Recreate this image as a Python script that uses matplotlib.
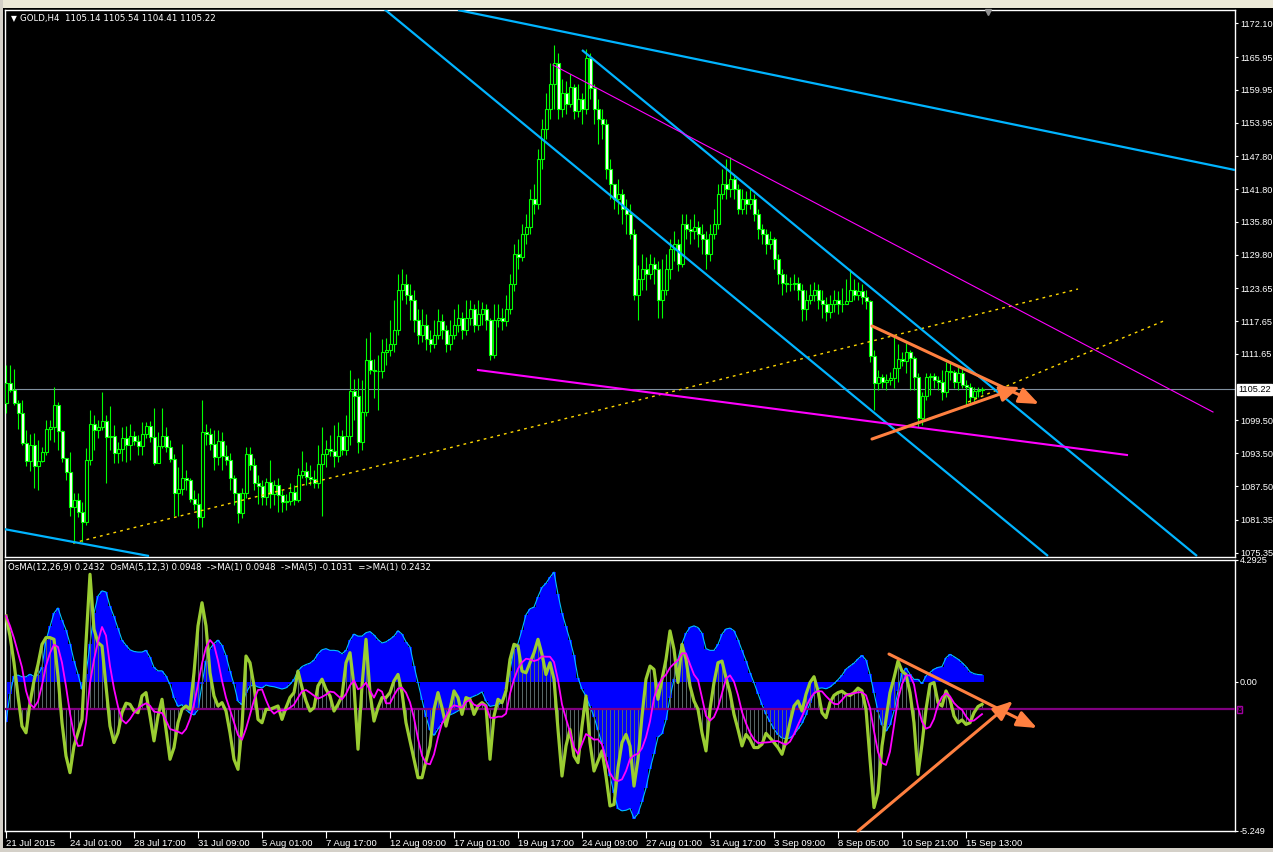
import matplotlib
matplotlib.use("Agg")
import matplotlib.pyplot as plt
import numpy as np
import pandas as pd
from matplotlib.patches import Rectangle

# ---------------- data ----------------
first_open = 1102.7
close = [1106.4, 1105.1, 1102.7, 1100.9, 1095.4, 1092.1, 1095.0, 1091.1, 1092.1, 1093.7,
         1097.9, 1098.3, 1102.3, 1097.6, 1092.6, 1090.0, 1083.6, 1084.9, 1082.7, 1080.9,
         1092.2, 1098.9, 1097.7, 1098.3, 1099.4, 1096.5, 1096.7, 1093.5, 1094.3, 1096.3,
         1095.0, 1096.7, 1095.7, 1094.8, 1097.0, 1098.5, 1096.5, 1091.7, 1094.8, 1096.7,
         1094.6, 1092.4, 1086.2, 1086.9, 1088.9, 1088.6, 1085.1, 1084.2, 1081.8, 1097.4,
         1097.0, 1095.2, 1092.8, 1095.7, 1093.0, 1092.2, 1088.9, 1086.2, 1082.5, 1086.2,
         1093.3, 1091.3, 1088.0, 1087.5, 1085.5, 1088.2, 1086.0, 1087.7, 1085.8, 1084.5,
         1084.7, 1086.4, 1084.9, 1089.5, 1090.2, 1089.1, 1088.8, 1088.0, 1091.5, 1093.3,
         1094.3, 1093.9, 1093.0, 1096.7, 1094.1, 1096.7, 1104.9, 1104.0, 1095.5, 1101.1,
         1110.6, 1108.8, 1108.6, 1108.6, 1112.1, 1112.3, 1113.4, 1116.1, 1123.4, 1124.4,
         1122.5, 1121.6, 1117.9, 1115.2, 1117.0, 1114.3, 1113.4, 1115.2, 1117.6, 1116.1,
         1113.4, 1115.2, 1117.0, 1118.3, 1116.1, 1118.3, 1119.8, 1117.0, 1118.9, 1119.8,
         1117.9, 1111.5, 1117.9, 1118.3, 1117.6, 1119.8, 1124.4, 1129.9, 1129.3, 1133.5,
         1134.8, 1140.0, 1139.0, 1147.3, 1152.8, 1156.5, 1161.1, 1164.8, 1156.5, 1159.3,
         1157.4, 1160.5, 1156.1, 1158.3, 1156.5, 1165.7, 1160.2, 1156.5, 1154.7, 1153.7,
         1145.5, 1142.7, 1140.0, 1140.9, 1138.1, 1137.2, 1133.6, 1122.5, 1125.3, 1127.1,
         1126.2, 1128.1, 1127.1, 1121.6, 1123.4, 1127.1, 1130.8, 1131.7, 1128.1, 1135.4,
         1134.5, 1134.1, 1134.8, 1133.6, 1132.6, 1129.9, 1133.6, 1135.4, 1140.9, 1142.7,
         1141.8, 1143.6, 1141.8, 1138.1, 1140.0, 1139.1, 1140.0, 1137.2, 1134.5, 1133.6,
         1131.7, 1132.6, 1129.0, 1126.2, 1124.7, 1124.4, 1124.4, 1124.7, 1123.4, 1119.8,
         1121.6, 1122.5, 1123.4, 1121.6, 1120.7, 1119.4, 1120.7, 1121.6, 1120.7, 1120.7,
         1121.3, 1123.4, 1122.5, 1123.1, 1122.0, 1121.3, 1111.2, 1106.4, 1107.5, 1106.6,
         1106.9, 1107.3, 1109.1, 1110.8, 1110.4, 1112.1, 1111.0, 1107.5, 1100.0, 1104.0,
         1107.5, 1107.7, 1106.9, 1106.6, 1104.7, 1108.6, 1108.4, 1106.6, 1108.2, 1106.0,
         1105.6, 1103.8, 1104.9, 1105.14, 1105.22]
high = [1109.7, 1109.7, 1108.9, 1103.3, 1103.3, 1097.8, 1097.0, 1097.2, 1095.9, 1094.6,
        1099.6, 1099.6, 1105.6, 1102.9, 1097.8, 1092.6, 1093.7, 1086.2, 1086.2, 1084.5,
        1094.4, 1101.4, 1100.5, 1099.6, 1104.7, 1100.5, 1102.2, 1098.7, 1095.5, 1098.3,
        1098.5, 1098.9, 1097.6, 1096.8, 1099.2, 1099.2, 1099.4, 1101.8, 1097.4, 1101.8,
        1098.3, 1095.9, 1093.3, 1091.0, 1095.2, 1090.4, 1088.9, 1086.7, 1086.2, 1103.3,
        1098.9, 1098.1, 1097.8, 1097.8, 1097.4, 1095.0, 1093.5, 1089.5, 1086.2, 1087.1,
        1094.6, 1094.6, 1092.6, 1089.5, 1088.6, 1088.9, 1092.2, 1088.6, 1088.9, 1086.7,
        1086.0, 1088.0, 1087.7, 1090.8, 1093.9, 1091.9, 1091.3, 1090.4, 1095.0, 1098.3,
        1095.9, 1096.8, 1098.7, 1099.2, 1097.8, 1100.5, 1108.8, 1107.1, 1107.3, 1106.9,
        1114.5, 1115.7, 1110.8, 1111.5, 1114.3, 1114.6, 1117.9, 1121.6, 1126.2, 1127.1,
        1126.2, 1124.4, 1123.4, 1119.8, 1119.8, 1118.9, 1116.1, 1117.9, 1119.8, 1118.9,
        1117.0, 1117.9, 1119.8, 1120.7, 1119.4, 1121.6, 1121.6, 1120.7, 1121.6, 1121.2,
        1120.7, 1118.3, 1120.7, 1120.7, 1120.1, 1122.5, 1126.2, 1131.7, 1132.6, 1135.4,
        1137.2, 1141.8, 1142.7, 1149.2, 1154.7, 1159.3, 1164.8, 1168.1, 1166.6, 1162.0,
        1161.6, 1162.9, 1161.1, 1161.1, 1159.3, 1167.5, 1166.6, 1161.1, 1158.3, 1156.5,
        1154.7, 1147.3, 1142.7, 1143.6, 1141.8, 1140.0, 1139.1, 1134.5, 1128.0, 1129.9,
        1129.3, 1129.9, 1129.3, 1128.6, 1129.0, 1129.9, 1132.6, 1134.1, 1132.6, 1137.2,
        1137.2, 1136.3, 1137.2, 1135.9, 1135.4, 1134.1, 1135.4, 1138.1, 1142.7, 1145.5,
        1147.3, 1147.7, 1144.6, 1142.7, 1141.8, 1141.4, 1141.8, 1140.9, 1138.1, 1135.4,
        1134.5, 1134.1, 1133.0, 1129.9, 1127.1, 1126.2, 1125.7, 1126.2, 1125.7, 1124.4,
        1123.4, 1124.4, 1124.9, 1124.4, 1123.4, 1122.0, 1122.5, 1123.4, 1123.1, 1123.8,
        1125.3, 1127.1, 1125.3, 1124.9, 1124.4, 1123.4, 1121.6, 1112.4, 1108.8, 1107.9,
        1107.9, 1108.4, 1114.8, 1113.4, 1112.1, 1113.7, 1112.4, 1111.2, 1108.2, 1104.7,
        1108.2, 1108.2, 1108.2, 1107.7, 1108.8, 1110.2, 1110.2, 1108.8, 1109.3, 1109.1,
        1106.9, 1106.4, 1105.6, 1105.6, 1105.54]
low = [1100.9, 1104.7, 1102.3, 1097.9, 1095.0, 1091.1, 1090.2, 1087.1, 1086.7, 1091.9,
       1093.2, 1095.9, 1095.5, 1094.1, 1091.9, 1088.6, 1082.1, 1077.0, 1081.8, 1077.2,
       1080.3, 1091.3, 1094.1, 1096.3, 1097.8, 1088.0, 1094.1, 1091.7, 1091.7, 1092.1,
       1091.9, 1092.2, 1095.0, 1093.2, 1093.2, 1096.3, 1095.5, 1091.3, 1091.7, 1094.4,
       1093.7, 1091.9, 1082.1, 1082.1, 1085.8, 1086.7, 1084.5, 1083.1, 1079.8, 1080.0,
       1095.0, 1094.1, 1090.4, 1091.3, 1090.4, 1091.3, 1086.7, 1084.0, 1080.7, 1081.6,
       1085.3, 1090.4, 1086.7, 1084.3, 1084.0, 1084.0, 1083.4, 1084.0, 1082.7, 1082.7,
       1083.1, 1084.0, 1084.0, 1084.5, 1088.9, 1087.7, 1087.7, 1087.1, 1087.1, 1082.1,
       1091.0, 1093.0, 1091.0, 1091.9, 1093.2, 1093.2, 1095.0, 1099.6, 1093.5, 1094.1,
       1100.3, 1107.9, 1103.6, 1101.4, 1107.3, 1109.7, 1111.3, 1112.1, 1115.2, 1121.6,
       1120.7, 1117.9, 1115.7, 1113.4, 1113.9, 1112.4, 1112.1, 1112.8, 1114.3, 1114.3,
       1112.1, 1112.4, 1114.3, 1115.7, 1114.3, 1115.2, 1117.0, 1115.7, 1116.1, 1117.0,
       1116.1, 1110.6, 1111.0, 1116.5, 1116.1, 1116.8, 1118.9, 1123.1, 1127.1, 1128.6,
       1131.7, 1133.6, 1137.2, 1138.1, 1145.5, 1151.0, 1154.7, 1156.5, 1154.7, 1155.0,
       1155.6, 1156.9, 1154.7, 1155.0, 1153.7, 1155.6, 1158.3, 1153.7, 1150.1, 1151.0,
       1143.6, 1140.0, 1138.1, 1137.2, 1135.4, 1133.6, 1132.6, 1121.6, 1117.9, 1123.4,
       1123.4, 1125.3, 1124.4, 1118.3, 1118.3, 1122.5, 1125.3, 1128.6, 1126.8, 1127.5,
       1132.6, 1131.7, 1132.6, 1131.2, 1129.9, 1127.1, 1128.6, 1132.6, 1134.5, 1140.0,
       1140.0, 1140.3, 1140.0, 1137.2, 1137.2, 1137.2, 1138.1, 1135.9, 1132.6, 1131.7,
       1129.9, 1130.8, 1127.1, 1124.4, 1122.5, 1122.9, 1123.1, 1123.4, 1121.6, 1117.6,
       1117.9, 1120.7, 1121.3, 1119.8, 1118.3, 1117.6, 1118.3, 1119.4, 1118.9, 1119.4,
       1120.7, 1122.0, 1121.6, 1121.6, 1120.7, 1119.8, 1110.2, 1101.4, 1105.1, 1105.5,
       1105.1, 1106.0, 1105.5, 1106.6, 1109.5, 1108.2, 1105.1, 1105.1, 1098.3, 1098.7,
       1103.3, 1104.2, 1105.5, 1105.1, 1103.3, 1103.8, 1106.9, 1105.5, 1105.1, 1105.5,
       1102.3, 1102.7, 1102.9, 1103.8, 1104.41]

# OsMA(12,26,9) histogram
osma_slow = [-1.41, -0.45, 0.2, 0.23, 0.17, 0.17, 0.26, 0.18, 0.24, 0.5,
             1.46, 1.94, 2.41, 2.59, 2.17, 1.82, 1.34, 0.74, 0.26, -0.27,
             0.26, 1.34, 2.41, 3.01, 3.19, 3.15, 2.65, 2.29, 1.88, 1.46,
             1.28, 1.12, 1.06, 1.04, 1.04, 1.1, 0.86, 0.5, 0.38, 0.38,
             0.2, -0.1, -0.57, -0.87, -0.81, -0.99, -1.11, -1.17, -0.99, -0.1,
             0.74, 1.16, 1.34, 1.46, 1.28, 0.92, 0.38, -0.1, -0.69, -0.81,
             -0.39, -0.16, -0.12, -0.19, -0.22, -0.12, -0.16, -0.18, -0.22, -0.26,
             -0.22, -0.1, 0.08, 0.38, 0.53, 0.6, 0.65, 0.76, 0.98, 1.12,
             1.16, 1.1, 1.1, 1.08, 0.98, 1.1, 1.46, 1.67, 1.6, 1.6,
             1.72, 1.76, 1.64, 1.48, 1.36, 1.4, 1.49, 1.6, 1.79, 1.67,
             1.4, 1.22, 0.56, -0.04, -0.63, -1.23, -1.71, -1.89, -1.67, -1.47,
             -1.29, -1.17, -1.11, -1.03, -0.87, -0.69, -0.57, -0.51, -0.45, -0.36,
             -0.69, -0.87, -0.84, -0.81, -0.72, -0.27, 0.38, 1.16, 1.34, 1.82,
             2.35, 2.56, 2.62, 2.99, 3.31, 3.46, 3.67, 3.85, 3.07, 2.41,
             1.94, 1.46, 0.92, 0.14, -0.27, -0.51, -0.87, -1.23, -1.71, -2.19,
             -2.66, -3.32, -3.92, -4.46, -4.54, -4.52, -4.46, -4.81, -4.64, -4.22,
             -3.74, -3.08, -2.54, -1.95, -1.83, -1.35, -0.57, 0.08, 0.8, 1.34,
             1.7, 1.91, 1.96, 1.9, 1.7, 1.16, 1.1, 1.1, 1.31, 1.67,
             1.85, 1.88, 1.79, 1.48, 1.1, 0.74, 0.32, -0.04, -0.43, -0.81,
             -1.15, -1.41, -1.67, -1.86, -1.98, -2.01, -1.98, -1.86, -1.67, -1.47,
             -1.17, -0.75, -0.42, -0.24, -0.22, -0.25, -0.19, -0.07, 0.07, 0.23,
             0.44, 0.55, 0.65, 0.8, 0.92, 0.76, 0.26, -0.39, -1.05, -1.53,
             -1.74, -1.53, -1.03, -0.33, 0.29, 0.48, 0.26, 0.08, 0.08, -0.07,
             0.2, 0.32, 0.44, 0.5, 0.53, 0.84, 0.96, 0.88, 0.79, 0.67,
             0.53, 0.35, 0.28, 0.25, 0.24]

# OsMA(5,12,3) (grey histogram and ->MA(1) green line), drawn about its own zero level
osma_fast = [3.35, 2.63, 1.67, 0.48, -0.6, -0.84, 0.24, 1.02, 1.61, 2.33,
             2.57, 2.57, 2.51, 1.19, -0.48, -1.67, -2.27, -1.31, -0.84, -0.36,
             2.39, 4.84, 2.87, 2.39, 2.27, 0.84, -0.6, -1.19, -0.84, -0.12,
             0.22, 0.18, -0.06, -0.12, 0.48, 0.6, -0.24, -1.13, -0.24, 0.36,
             -0.72, -1.79, -1.37, -0.48, 0.0, 0.12, 0.0, 1.31, 2.99, 3.82,
             2.99, 1.31, 0.48, 0.12, 0.24, -0.06, -0.84, -1.79, -2.15, -0.6,
             1.91, 1.67, 0.84, -0.36, -0.48, 0.0, 0.0, 0.06, 0.12, -0.36,
             0.06, 0.42, 0.6, 1.37, 0.78, 0.3, -0.06, 0.06, 0.84, 1.08,
             0.72, 0.48, -0.06, 0.18, 0.48, 1.67, 2.03, 0.84, -1.43, 0.84,
             2.51, 0.6, -0.42, 0.06, 0.42, 0.42, 0.6, 1.02, 1.25, 0.6,
             -0.48, -1.13, -1.79, -2.45, -2.45, -1.85, -1.31, 0.0, 0.6, 0.06,
             -0.6, 0.0, 0.66, 0.42, -0.18, 0.42, 0.36, -0.18, 0.12, 0.24,
             0.12, -1.79, -0.24, 0.36, 0.24, 0.66, 1.79, 2.33, 2.27, 1.37,
             1.31, 1.67, 2.03, 2.51, 1.97, 1.25, 1.67, 1.08, -0.72, -2.39,
             -1.31, -0.72, -1.67, -1.91, -0.6, 0.48, -1.19, -2.21, -1.85, -1.49,
             -2.39, -3.46, -3.41, -2.09, -1.19, -0.9, -1.31, -2.75, -1.79, -0.24,
             1.08, 1.55, 1.43, 0.36, 1.08, 1.79, 2.81, 2.15, 0.96, 2.33,
             1.79, 0.84, 0.3, 0.0, -0.84, -1.49, 0.0, 0.96, 1.67, 1.73,
             1.13, 0.6, -0.18, -0.72, -1.31, -0.9, -1.08, -1.37, -1.37, -1.25,
             -0.86, -1.02, -1.19, -1.37, -1.61, -1.13, -0.48, 0.12, 0.3, -0.06,
             0.54, 0.96, 1.17, 0.66, -0.12, -0.3, 0.24, 0.5, 0.6, 0.65,
             0.54, 0.5, 0.6, 0.76, 0.66, 0.0, -1.79, -3.52, -2.99, -1.31,
             -0.36, 0.6, 1.13, 1.73, 1.37, 1.25, 0.6, -0.48, -2.33, -1.25,
             0.0, 0.9, 0.96, 0.24, 0.12, 0.66, 0.36, -0.24, -0.48, -0.38,
             -0.54, -0.48, -0.12, 0.1, 0.18]

date_labels = ["21 Jul 2015", "24 Jul 01:00", "28 Jul 17:00", "31 Jul 09:00",
               "5 Aug 01:00", "7 Aug 17:00", "12 Aug 09:00", "17 Aug 01:00",
               "19 Aug 17:00", "24 Aug 09:00", "27 Aug 01:00", "31 Aug 17:00",
               "3 Sep 09:00", "8 Sep 05:00", "10 Sep 21:00", "15 Sep 13:00"]
date_label_bars = [0, 16, 32, 48, 64, 80, 96, 112, 128, 144, 160, 176, 192, 208, 224, 240]
price_ticks = [1172.10, 1165.95, 1159.95, 1153.95, 1147.80, 1141.80, 1135.80, 1129.80,
               1123.65, 1117.65, 1111.65, 1099.50, 1093.50, 1087.50, 1081.35, 1075.35]
bid_price = 1105.22
header_text = "GOLD,H4  1105.14 1105.54 1104.41 1105.22"
osc_header = ("OsMA(12,26,9) 0.2432  OsMA(5,12,3) 0.0948  ->MA(1) 0.0948  "
              "->MA(5) -0.1031  =>MA(1) 0.2432")
osc_ticks = [4.2925, 0.0, -5.249]
osc_tick_labels = ["4.2925", "0.00", "-5.249"]

# trendline objects (bar index, price)
cyan_lines = [((94.25, 1174.91), (260.5, 1074.71)),
              ((144.0, 1167.23), (297.75, 1074.71)),
              ((113.0, 1174.54), (307.25, 1145.29)),
              ((-0.5, 1079.64), (35.75, 1074.71))]
magenta_thin = ((136.75, 1164.49), (301.75, 1101.04))
magenta_thick = ((118.0, 1108.72), (280.25, 1093.18))
yellow_dotted = [((16.75, 1077.08), (268.0, 1123.53)),
                 ((240.5, 1102.87), (290.0, 1117.86))]
orange_price = [((216.5, 1116.77), (258.25, 1102.5)),
                ((216.5, 1096.10), (253.5, 1105.61))]
orange_osc = [((220.75, 0.97), (257.75, -1.63)),
              ((213.0, -5.25), (251.75, -0.68))]

# ---------------- figure ----------------
W, H = 1273, 852
fig = plt.figure(figsize=(W / 100, H / 100), dpi=100, facecolor="black")


def rect(px0, py0, px1, py1):
    return [px0 / W, 1 - py1 / H, (px1 - px0) / W, (py1 - py0) / H]


# window chrome
fig.patches.append(Rectangle((0, 1 - 8 / H), 1, 8 / H, transform=fig.transFigure,
                             facecolor="#ece9d8", edgecolor="none"))
fig.patches.append(Rectangle((0, 0), 1, 4 / H, transform=fig.transFigure,
                             facecolor="#d4d0c8", edgecolor="none"))
fig.patches.append(Rectangle((0, 0), 3 / W, 1, transform=fig.transFigure,
                             facecolor="#d4d0c8", edgecolor="none"))

FONT = "DejaVu Sans"
AXFONT = "Liberation Sans"
LIME = "#00ff00"
ORANGE = "#ff8040"
ARROW = "-|>,head_length=1.0,head_width=0.4"

ax = fig.add_axes(rect(4.5, 9.5, 1235, 556.5))
ax2 = fig.add_axes(rect(4.5, 559.5, 1235, 831))
XL = ((4.5 - 6) / 4, (1235 - 6) / 4)

for a in (ax, ax2):
    a.set_facecolor("black")
    a.set_xlim(*XL)
    for s in a.spines.values():
        s.set_color("white")
        s.set_linewidth(1.0)

n = len(close)
idx = np.arange(n)
c = np.array(close)
o = np.array([first_open] + close[:-1])
h = np.maximum(np.array(high), np.maximum(o, c))
l = np.minimum(np.array(low), np.minimum(o, c))
up = c >= o
faces = np.where(up, "black", "white")

ax.set_ylim(1074.62, 1174.64)
ax.vlines(idx, l, h, color=LIME, lw=0.8, zorder=3)
ax.bar(idx, c - o, bottom=o, width=0.75, color=faces, edgecolor=LIME,
       linewidth=0.8, zorder=4)

ax.axhline(bid_price, color="#8090a0", lw=0.8, zorder=2)

for (x0, y0), (x1, y1) in cyan_lines:
    ax.plot([x0, x1], [y0, y1], color="#00b4ff", lw=1.6, zorder=6,
            solid_capstyle="butt")
ax.plot(*zip(*magenta_thin), color="#ff00ff", lw=0.8, zorder=6)
ax.plot(*zip(*magenta_thick), color="#ff00ff", lw=1.5, zorder=6)
for (x0, y0), (x1, y1) in yellow_dotted:
    ax.plot([x0, x1], [y0, y1], color="#ffd700", lw=1.0, ls=(0, (2, 3)), zorder=5)

for (x0, y0), (x1, y1) in orange_price:
    ax.annotate("", xy=(x1, y1), xytext=(x0, y0),
                arrowprops=dict(arrowstyle=ARROW, color=ORANGE, lw=2.2,
                                shrinkA=0, shrinkB=0, mutation_scale=12), zorder=7)

ax.yaxis.tick_right()
ax.set_yticks(price_ticks)
ax.set_yticklabels([f"{v:.2f}" for v in price_ticks])
ax.tick_params(axis="y", colors="white", labelcolor="white", length=2.5, width=0.8,
               pad=1, labelsize=6.6, direction="out")
for t in ax.get_yticklabels():
    t.set_fontfamily(AXFONT)
ax.tick_params(axis="x", bottom=False, labelbottom=False)

ax.text(1.0025, bid_price, f"{bid_price:.2f}", transform=ax.get_yaxis_transform(),
        ha="left", va="center", fontsize=6.6, family=AXFONT, color="black",
        bbox=dict(boxstyle="square,pad=0.12", facecolor="white", edgecolor="white"),
        zorder=10, clip_on=False)

ax.text(0.005, 0.984, "\u25bc", transform=ax.transAxes, ha="left", va="center",
        color="white", fontsize=5.5, family=FONT)
ax.text(0.0125, 0.984, header_text, transform=ax.transAxes, ha="left", va="center",
        color="white", fontsize=6.2, family=FONT)
# chart-shift marker on the top border
ax.plot([245.5], [1174.1], marker="v", color="#909090", markersize=5, clip_on=False,
        zorder=8)

# ---------------- oscillator panel ----------------
ax2.set_ylim(-5.249, 4.2925)
slow = np.array(osma_slow)
ax2.bar(idx, slow, width=0.8, color="#0000ff", linewidth=0, zorder=1)
ax2.plot(idx, slow, color="#00bfff", lw=0.8, zorder=2)

ax3 = ax2.twinx()
ax3.set_zorder(ax2.get_zorder() + 1)
ax3.patch.set_visible(False)
ax3.set_ylim(-4.36, 5.37)
ax3.set_xlim(*XL)
ax3.axis("off")
fast = np.array(osma_fast)
fast_ma5 = pd.Series(fast).rolling(5, min_periods=1).mean().to_numpy()
ax3.vlines(idx, 0, fast, color="#5a6a6a", lw=0.7, zorder=3)
ax3.axhline(0, color="#800080", lw=1.6, zorder=4)
ax3.plot(idx, fast, color="#9acd32", lw=2.3, zorder=5, solid_joinstyle="round")
ax3.plot(idx, fast_ma5, color="#ff00ff", lw=1.3, zorder=6)

for (x0, y0), (x1, y1) in orange_osc:
    ax3.annotate("", xy=(x1, y1), xytext=(x0, y0), xycoords=ax2.transData,
                 textcoords=ax2.transData,
                 arrowprops=dict(arrowstyle=ARROW, color=ORANGE, lw=2.2,
                                 shrinkA=0, shrinkB=0, mutation_scale=12), zorder=8)

ax2.yaxis.tick_right()
ax2.set_yticks(osc_ticks)
ax2.set_yticklabels(osc_tick_labels)
ax2.tick_params(axis="y", colors="white", labelcolor="white", length=2.5, width=0.8,
                pad=1, labelsize=6.6, direction="out")
ax2.set_xticks(date_label_bars)
ax2.set_xticklabels(date_labels)
ax2.tick_params(axis="x", colors="white", labelcolor="white", length=5, width=0.8,
                pad=1, labelsize=6.8, direction="out")
for t in ax2.get_xticklabels():
    t.set_ha("left")
    t.set_fontfamily(AXFONT)
for t in ax2.get_yticklabels():
    t.set_fontfamily(AXFONT)

ax3.text(0.003, 0.97, osc_header, transform=ax2.transAxes, ha="left", va="center",
         color="white", fontsize=6.2, family=FONT, zorder=10)
ax3.text(1.002, 0.0, "0", transform=ax3.get_yaxis_transform(), ha="left", va="center",
         color="#a000a0", fontsize=4.5, family=FONT, clip_on=False,
         bbox=dict(boxstyle="square,pad=0.15", facecolor="black", edgecolor="#a000a0",
                   linewidth=1.0))

fig.savefig("out.png", dpi=100, facecolor="black")
